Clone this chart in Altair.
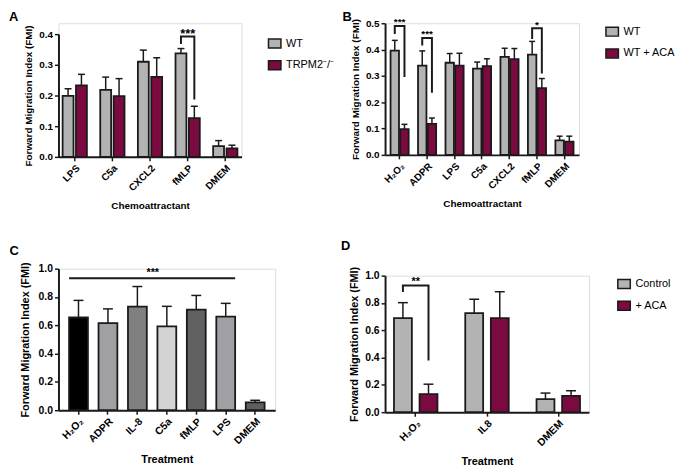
import altair as alt
import pandas as pd

FONT = "Liberation Sans"
GRAY = "#b3b3b3"
MAROON = "#7b0a40"
INK = "#1a1a1a"
YTITLE = "Forward Migration Index (FMI)"

# ---------------- Panel A ----------------
A_cats = ["LPS", "C5a", "CXCL2", "fMLP", "DMEM"]
A_groups = ["WT", "TRPM2⁻/⁻"]
A_wt = [0.199, 0.218, 0.310, 0.337, 0.035]
A_wt_err = [0.023, 0.042, 0.038, 0.016, 0.018]
A_ko = [0.233, 0.198, 0.261, 0.126, 0.028]
A_ko_err = [0.036, 0.057, 0.062, 0.039, 0.010]
A_sig_cat = ["fMLP"]
A_sig_left = [0.371]
A_sig_top = [0.392]
A_sig_right = [0.190]
A_sig_text = ["***"]
A_sig_text_y = [0.412]
A_yticks = [0.0, 0.1, 0.2, 0.3, 0.4]

# ---------------- Panel B ----------------
B_cats = ["H₂O₂", "ADPR", "LPS", "C5a", "CXCL2", "fMLP", "DMEM"]
B_groups = ["WT", "WT + ACA"]
B_wt = [0.396, 0.339, 0.350, 0.3275, 0.3725, 0.381, 0.055]
B_wt_err = [0.039, 0.056, 0.035, 0.025, 0.0325, 0.050, 0.016]
B_aca = [0.0975, 0.1175, 0.339, 0.3375, 0.364, 0.254, 0.050]
B_aca_err = [0.0185, 0.0225, 0.047, 0.0275, 0.040, 0.036, 0.021]
B_sig_cat = ["H₂O₂", "ADPR", "fMLP"]
B_sig_left = [0.4625, 0.419, 0.444]
B_sig_top = [0.490, 0.444, 0.481]
B_sig_right = [0.300, 0.240, 0.3125]
B_sig_text = ["***", "***", "*"]
B_sig_text_y = [0.513, 0.468, 0.502]
B_yticks = [0.0, 0.1, 0.2, 0.3, 0.4, 0.5]

# ---------------- Panel C ----------------
C_cats = ["H₂O₂", "ADPR", "IL-8", "C5a", "fMLP", "LPS", "DMEM"]
C_vals = [0.655, 0.615, 0.732, 0.592, 0.711, 0.662, 0.056]
C_err = [0.121, 0.101, 0.142, 0.142, 0.100, 0.093, 0.014]
C_colors = ["#000000", "#a0a0a4", "#808080", "#d3d3d3", "#616161", "#a0a0a4", "#5f5f5f"]
C_sig_start = ["H₂O₂"]
C_sig_end = ["LPS"]
C_sig_y = [0.932]
C_sig_text_cat = ["IL-8"]
C_sig_text = ["***"]
C_sig_text_y = [0.99]
C_yticks = [0.0, 0.2, 0.4, 0.6, 0.8, 1.0]

# ---------------- Panel D ----------------
D_cats = ["H₂O₂", "IL8", "DMEM"]
D_groups = ["Control", "+ ACA"]
D_ctrl = [0.689, 0.725, 0.096]
D_ctrl_err = [0.113, 0.102, 0.044]
D_aca = [0.1325, 0.689, 0.120]
D_aca_err = [0.0725, 0.193, 0.037]
D_sig_cat = ["H₂O₂"]
D_sig_left = [0.887]
D_sig_top = [0.928]
D_sig_right = [0.386]
D_sig_text = ["**"]
D_sig_text_y = [0.975]
D_yticks = [0.0, 0.2, 0.4, 0.6, 0.8, 1.0]

LEG_SYMBOL = "M-1.4,-1H1.4V1H-1.4Z"
BAR_STROKE = 1.8


def x_axis(fs, tfs, tpad):
    return alt.Axis(labelAngle=-45, labelAlign="right", labelBaseline="top",
                    labelFont=FONT, labelFontSize=fs, labelFontWeight="bold",
                    labelColor="#000", labelPadding=2, tickSize=4, tickWidth=1.5,
                    tickColor=INK, domainColor=INK, domainWidth=2,
                    titleFont=FONT, titleFontSize=tfs, titleFontWeight="bold",
                    titleColor="#000", titlePadding=tpad, grid=False)


def y_axis(vals, fs, tfs, tpad):
    return alt.Axis(values=vals, format=".1f", labelFont=FONT, labelFontSize=fs,
                    labelFontWeight="bold", labelColor="#000", labelPadding=2,
                    tickSize=4, tickWidth=1.5, tickColor=INK, domainColor=INK,
                    domainWidth=2, titleFont=FONT, titleFontSize=tfs,
                    titleFontWeight="bold", titleColor="#000", titlePadding=tpad,
                    grid=False)


def grouped_panel(letter, cats, groups, m1, e1, m2, e2, sig, yticks, ydom,
                  w, h, top_gap, pin, pout, opin, cap, fs, tfs, ytpad, xtitle, xtpad,
                  toff, tdx, leg_dx, leg_y, starfs):
    rows = []
    for g, ms, es in ((groups[0], m1, e1), (groups[1], m2, e2)):
        for c, m, e in zip(cats, ms, es):
            rows.append({"cat": c, "group": g, "mean": m, "hi": m + e})
    df = pd.DataFrame(rows)
    xs = alt.Scale(type="band", domain=cats, paddingInner=pin, paddingOuter=pout)
    os_ = alt.Scale(type="band", domain=groups, paddingInner=opin, paddingOuter=0)
    vh = h + top_gap
    ys = alt.Scale(domain=ydom, nice=False, range=[vh, top_gap])
    xa = x_axis(fs, tfs, xtpad)
    ya = y_axis(yticks, fs, tfs, ytpad)
    X = alt.X("cat:N", scale=xs, axis=xa, title=xtitle)
    XO = alt.XOffset("group:N", scale=os_)
    bars = alt.Chart(df).mark_bar(stroke=INK, strokeWidth=BAR_STROKE).encode(
        x=X, xOffset=XO,
        y=alt.Y("mean:Q", scale=ys, axis=ya, title=YTITLE),
        color=alt.Color("group:N", scale=alt.Scale(domain=groups, range=[GRAY, MAROON]),
                        legend=alt.Legend(title=None, orient="none",
                                          legendX=w + leg_dx, legendY=leg_y,
                                          symbolType=LEG_SYMBOL, symbolSize=81,
                                          symbolStrokeColor=INK, symbolStrokeWidth=1.5,
                                          symbolOpacity=1,
                                          labelFont=FONT, labelFontSize=11,
                                          labelColor="#000", labelOffset=6,
                                          rowPadding=7, padding=0)))
    err = alt.Chart(df).mark_rule(color=INK, strokeWidth=1.5).encode(
        x=X, xOffset=XO,
        y=alt.Y("mean:Q", scale=ys, axis=ya, title=YTITLE), y2="hi:Q")
    caps = alt.Chart(df).mark_tick(orient="horizontal", color=INK, size=cap,
                                   thickness=1.5, opacity=1).encode(
        x=X, xOffset=XO, y=alt.Y("hi:Q", scale=ys, axis=ya, title=YTITLE))
    layers = [err, caps, bars]
    if sig:
        s_cat, s_left, s_top, s_right, s_text, s_ty = sig
        brow = []
        for i, c in enumerate(s_cat):
            brow += [
                {"cat": c, "group": groups[0], "y": s_left[i], "o": 0, "id": i},
                {"cat": c, "group": groups[0], "y": s_top[i], "o": 1, "id": i},
                {"cat": c, "group": groups[1], "y": s_top[i], "o": 2, "id": i},
                {"cat": c, "group": groups[1], "y": s_right[i], "o": 3, "id": i},
            ]
        bdf = pd.DataFrame(brow)
        line = alt.Chart(bdf).mark_line(color=INK, strokeWidth=2, strokeJoin="miter",
                                        strokeCap="square").encode(
            x=X, xOffset=XO, y=alt.Y("y:Q", scale=ys, axis=ya, title=YTITLE),
            order="o:Q", detail="id:N")
        tdf = pd.DataFrame({"cat": s_cat, "y": s_ty, "label": s_text})
        stars = alt.Chart(tdf).mark_text(font=FONT, fontSize=starfs, fontWeight="bold",
                                         color="#000", baseline="middle",
                                         dy=starfs * 0.25).encode(
            x=X, y=alt.Y("y:Q", scale=ys, axis=ya, title=YTITLE), text="label:N")
        layers += [line, stars]
    return alt.layer(*layers).properties(
        width=w, height=vh,
        title=alt.TitleParams(text=letter, anchor="start", font=FONT, fontSize=13,
                              fontWeight="bold", color="#000", offset=toff, dx=tdx))


A = grouped_panel("A", A_cats, A_groups, A_wt, A_wt_err, A_ko, A_ko_err,
                  (A_sig_cat, A_sig_left, A_sig_top, A_sig_right, A_sig_text, A_sig_text_y),
                  A_yticks, [0, 0.4], 185, 124, 11, 0.355, 0.11, 0.185, 7, 10, 10, 5,
                  "Chemoattractant", 8, -1, -15, 28, 15, 13)
B = grouped_panel("B", B_cats, B_groups, B_wt, B_wt_err, B_aca, B_aca_err,
                  (B_sig_cat, B_sig_left, B_sig_top, B_sig_right, B_sig_text, B_sig_text_y),
                  B_yticks, [0, 0.5], 196, 133, 0, 0.34, 0.2, 0.13, 6, 10, 10, 5,
                  "Chemoattractant", 8, -7, -8, 28, 3, 10)
D = grouped_panel("D", D_cats, D_groups, D_ctrl, D_ctrl_err, D_aca, D_aca_err,
                  (D_sig_cat, D_sig_left, D_sig_top, D_sig_right, D_sig_text, D_sig_text_y),
                  D_yticks, [0, 1.0], 206, 138, 0, 0.39, 0.125, 0.3, 10, 10.5, 11, 5,
                  "Treatment", 8, 13, -8, 30, 3, 11)

# Panel C (single series)
cdf = pd.DataFrame({"cat": C_cats, "mean": C_vals,
                    "hi": [v + e for v, e in zip(C_vals, C_err)]})
cxs = alt.Scale(type="band", domain=C_cats, paddingInner=0.36, paddingOuter=0.36)
cys = alt.Scale(domain=[0, 1.0], nice=False)
cxa = x_axis(10.5, 11, 8)
cya = y_axis(C_yticks, 10.5, 11, 8)
CX = alt.X("cat:N", scale=cxs, axis=cxa, title="Treatment")
c_bars = alt.Chart(cdf).mark_bar(stroke=INK, strokeWidth=BAR_STROKE).encode(
    x=CX, y=alt.Y("mean:Q", scale=cys, axis=cya, title=YTITLE),
    fill=alt.Fill("cat:N", scale=alt.Scale(domain=C_cats, range=C_colors), legend=None))
c_err = alt.Chart(cdf).mark_rule(color=INK, strokeWidth=1.5).encode(
    x=CX, y=alt.Y("mean:Q", scale=cys, axis=cya, title=YTITLE), y2="hi:Q")
c_caps = alt.Chart(cdf).mark_tick(orient="horizontal", color=INK, size=10,
                                  thickness=1.5, opacity=1).encode(
    x=CX, y=alt.Y("hi:Q", scale=cys, axis=cya, title=YTITLE))
csig = pd.DataFrame({"start": C_sig_start, "end": C_sig_end, "y": C_sig_y})
c_line = alt.Chart(csig).mark_rule(color=INK, strokeWidth=2).encode(
    x=alt.X("start:N", scale=cxs, axis=cxa, title="Treatment", bandPosition=0),
    x2=alt.X2("end:N", bandPosition=1),
    y=alt.Y("y:Q", scale=cys, axis=cya, title=YTITLE))
ctxt = pd.DataFrame({"cat": C_sig_text_cat, "y": C_sig_text_y, "label": C_sig_text})
c_stars = alt.Chart(ctxt).mark_text(font=FONT, fontSize=11, fontWeight="bold",
                                    color="#000", baseline="middle", dy=3, dx=6).encode(
    x=alt.X("cat:N", scale=cxs, axis=cxa, title="Treatment", bandPosition=1),
    y=alt.Y("y:Q", scale=cys, axis=cya, title=YTITLE), text="label:N")
C = alt.layer(c_err, c_caps, c_bars, c_line, c_stars).properties(
    width=219, height=143,
    title=alt.TitleParams(text="C", anchor="start", font=FONT, fontSize=13,
                          fontWeight="bold", color="#000", offset=4, dx=-10))

res = dict(x="independent", y="independent", color="independent",
           fill="independent", xOffset="independent")
left = alt.vconcat(A, C, spacing=33).resolve_scale(**res).resolve_legend(
    color="independent", fill="independent")
right = alt.vconcat(B, D, spacing=30).resolve_scale(**res).resolve_legend(
    color="independent")
chart = alt.concat(left, right, columns=2, spacing=4, align="none").resolve_scale(
    **res).resolve_legend(color="independent", fill="independent").properties(
    padding={"left": 0, "top": 0, "right": 0, "bottom": 0}
).configure_view(strokeWidth=0).configure(background="white")

chart.save("out.html", embed_options={"renderer": "svg", "actions": False})
